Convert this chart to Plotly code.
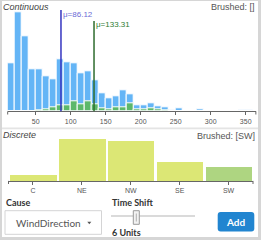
import plotly.graph_objects as go

# ---------------- data ----------------
bin_starts = [10, 20, 30, 40, 50, 60, 70, 80, 90, 100, 110, 120, 130, 140, 150, 160, 170, 180,
              190, 200, 210, 220, 230, 240, 250, 260, 270, 280, 290, 300, 310, 320, 330, 340, 350]
all_counts = [48, 99, 75, 42, 42, 35, 32, 52, 49, 48, 38, 40, 31, 18, 13, 15, 21, 17,
              6, 6, 8, 5, 4, 1, 3, 0, 0, 2, 0, 0, 0, 0, 0, 1, 1]
brushed_counts = [0, 0, 0, 0, 1, 2, 4, 6, 6, 10, 7, 10, 7, 3, 2, 4, 4, 8,
                  2, 2, 3, 2, 1, 0, 0, 0, 0, 0, 0, 0, 0, 0, 0, 0, 0]
bin_width = 10
hist_ticks = [50, 100, 150, 200, 250, 300, 350]
mean_all = 86.12
mean_brushed = 133.31

categories = ["C", "NE", "NW", "SE", "SW"]
cat_counts = [6.3, 42.3, 40.3, 18.7, 14.3]
brushed_cats = ["SW"]

W, H = 261, 240


def X(px):
    return px / W


def Y(py):
    return 1 - py / H


FONT = "Liberation Sans, Arial, sans-serif"
UIFONT = "Lato, sans-serif"
BLUE = "#64b5f6"
GREEN = "#5cb86a"

fig = go.Figure()

centers = [s + bin_width / 2 for s in bin_starts]
fig.add_trace(go.Bar(x=centers, y=all_counts, width=bin_width, marker=dict(color=BLUE, line=dict(color="white", width=1)),
                     xaxis="x", yaxis="y", hoverinfo="skip"))
fig.add_trace(go.Bar(x=centers, y=brushed_counts, width=bin_width, marker=dict(color=GREEN, line=dict(color="white", width=1)),
                     xaxis="x", yaxis="y", hoverinfo="skip"))

bar_colors = ["#aed581" if c in brushed_cats else "#dce775" for c in categories]
fig.add_trace(go.Bar(x=categories, y=cat_counts, marker=dict(color=bar_colors, line=dict(width=0)), width=0.947,
                     xaxis="x2", yaxis="y2", hoverinfo="skip"))

axis_common = dict(showline=True, linecolor="#666", linewidth=1, ticks="outside", ticklen=3, tickcolor="#666",
                   tickfont=dict(family=FONT, size=7, color="#555"), showgrid=False, zeroline=False, fixedrange=True)

fig.update_layout(
    width=W, height=H, margin=dict(l=0, r=0, t=0, b=0), paper_bgcolor="white", plot_bgcolor="white",
    showlegend=False, barmode="overlay", bargap=0,
    xaxis=dict(domain=[X(7.7), X(255.85)], range=[10, 364.5], tickvals=hist_ticks, anchor="y", **axis_common),
    yaxis=dict(domain=[Y(111.3), Y(11.3)], range=[0, 100], visible=False, anchor="x"),
    xaxis2=dict(domain=[X(8.5), X(253)], categoryorder="array", categoryarray=categories, anchor="y2", **axis_common),
    yaxis2=dict(domain=[Y(180.9), Y(135.9)], range=[0, 45], visible=False, anchor="x2"),
)

shapes = []
annotations = []

# outer frame and divider
gray = "#d6d6d6"
shapes.append(dict(type="rect", xref="paper", yref="paper", x0=X(0), x1=X(2), y0=0, y1=1, fillcolor=gray, line=dict(width=0)))
shapes.append(dict(type="rect", xref="paper", yref="paper", x0=X(258), x1=1, y0=0, y1=1, fillcolor=gray, line=dict(width=0)))
shapes.append(dict(type="rect", xref="paper", yref="paper", x0=0, x1=1, y0=Y(1), y1=1, fillcolor=gray, line=dict(width=0)))
shapes.append(dict(type="rect", xref="paper", yref="paper", x0=0, x1=1, y0=0, y1=Y(237), fillcolor=gray, line=dict(width=0)))
shapes.append(dict(type="rect", xref="paper", yref="paper", x0=X(2), x1=X(258), y0=Y(129.2), y1=Y(127.6), fillcolor="#e4e4e4", line=dict(width=0)))

# outer ticks at axis ends
for px in (7.7, 255.85):
    shapes.append(dict(type="line", xref="paper", yref="paper", x0=X(px), x1=X(px), y0=Y(111.3), y1=Y(114.5), line=dict(color="#666", width=1)))
for px in (8.5, 253):
    shapes.append(dict(type="line", xref="paper", yref="paper", x0=X(px), x1=X(px), y0=Y(180.9), y1=Y(184), line=dict(color="#666", width=1)))

# mean lines
shapes.append(dict(type="line", xref="x", yref="paper", x0=mean_all, x1=mean_all, y0=Y(111.3), y1=Y(10), line=dict(color="#3535c0", width=1.5)))
shapes.append(dict(type="line", xref="x", yref="paper", x0=mean_brushed, x1=mean_brushed, y0=Y(111.3), y1=Y(21), line=dict(color="#2e6b2e", width=1.5)))
annotations.append(dict(x=mean_all, y=Y(14), xref="x", yref="paper", text="μ=%.2f" % mean_all, showarrow=False, xanchor="left", yanchor="middle",
                        xshift=0, font=dict(family=FONT, size=8, color="#6b6bd6")))
annotations.append(dict(x=mean_brushed, y=Y(25), xref="x", yref="paper", text="μ=%.2f" % mean_brushed, showarrow=False, xanchor="left", yanchor="middle",
                        font=dict(family=FONT, size=8, color="#2e7d32")))

# panel titles
annotations.append(dict(x=X(1), y=Y(7), xref="paper", yref="paper", text="<i>Continuous</i>", showarrow=False, xanchor="left", yanchor="middle",
                        font=dict(family=FONT, size=9, color="#444")))
annotations.append(dict(x=X(257), y=Y(7), xref="paper", yref="paper", text="Brushed: []", showarrow=False, xanchor="right", yanchor="middle",
                        font=dict(family=FONT, size=9, color="#555")))
annotations.append(dict(x=X(1), y=Y(135), xref="paper", yref="paper", text="<i>Discrete</i>", showarrow=False, xanchor="left", yanchor="middle",
                        font=dict(family=FONT, size=9, color="#444")))
annotations.append(dict(x=X(257), y=Y(135.5), xref="paper", yref="paper", text="Brushed: [" + ",".join(brushed_cats) + "]", showarrow=False,
                        xanchor="right", yanchor="middle", font=dict(family=FONT, size=9, color="#555")))

# controls: Cause dropdown
annotations.append(dict(x=X(4), y=Y(202.7), xref="paper", yref="paper", text="<b>Cause</b>", showarrow=False, xanchor="left", yanchor="middle",
                        font=dict(family=UIFONT, size=9, color="#333")))
shapes.append(dict(type="rect", xref="paper", yref="paper", x0=X(5), x1=X(101.5), y0=Y(234.3), y1=Y(210.7), fillcolor="white",
                   line=dict(color="#d4d4d5", width=1)))
annotations.append(dict(x=X(13.5), y=Y(223), xref="paper", yref="paper", text="WindDirection", showarrow=False, xanchor="left", yanchor="middle",
                        font=dict(family=UIFONT, size=10, color="#555")))
shapes.append(dict(type="path", xref="paper", yref="paper",
                   path="M %f %f L %f %f L %f %f Z" % (X(87.3), Y(221.8), X(91.3), Y(221.8), X(89.3), Y(224.3)),
                   fillcolor="#555", line=dict(width=0)))

# Time shift slider
annotations.append(dict(x=X(110), y=Y(202.7), xref="paper", yref="paper", text="<b>Time Shift</b>", showarrow=False, xanchor="left", yanchor="middle",
                        font=dict(family=UIFONT, size=9, color="#333")))
shapes.append(dict(type="rect", xref="paper", yref="paper", x0=X(111), x1=X(195), y0=Y(217), y1=Y(215), fillcolor="#dadada", line=dict(width=0)))
shapes.append(dict(type="rect", xref="paper", yref="paper", x0=X(133.3), x1=X(139.3), y0=Y(224.3), y1=Y(210.7), fillcolor="#f2f2f2",
                   line=dict(color="#9a9a9a", width=1)))
shapes.append(dict(type="line", xref="paper", yref="paper", x0=X(136.3), x1=X(136.3), y0=Y(221.5), y1=Y(213.5), line=dict(color="#b0b0b0", width=1)))
annotations.append(dict(x=X(110), y=Y(232.7), xref="paper", yref="paper", text="<b>6 Units</b>", showarrow=False, xanchor="left", yanchor="middle",
                        font=dict(family=UIFONT, size=9, color="#333")))

# Add button (rounded)
bx0, bx1, by0, by1, r = 217.7, 254.3, 212, 231.5, 3
btn = ("M %f %f L %f %f Q %f %f %f %f L %f %f Q %f %f %f %f L %f %f Q %f %f %f %f L %f %f Q %f %f %f %f Z" % (
    X(bx0 + r), Y(by0), X(bx1 - r), Y(by0), X(bx1), Y(by0), X(bx1), Y(by0 + r),
    X(bx1), Y(by1 - r), X(bx1), Y(by1), X(bx1 - r), Y(by1),
    X(bx0 + r), Y(by1), X(bx0), Y(by1), X(bx0), Y(by1 - r),
    X(bx0), Y(by0 + r), X(bx0), Y(by0), X(bx0 + r), Y(by0)))
shapes.append(dict(type="path", xref="paper", yref="paper", path=btn, fillcolor="#2185d0", line=dict(width=0)))
annotations.append(dict(x=X((bx0 + bx1) / 2), y=Y(221.8), xref="paper", yref="paper", text="<b>Add</b>", showarrow=False, xanchor="center",
                        yanchor="middle", font=dict(family=UIFONT, size=10, color="white")))

fig.update_layout(shapes=shapes, annotations=annotations)
fig.write_html("out.html", config={"displayModeBar": False},
               post_script="document.body.style.margin='0';document.body.style.overflow='hidden';")
